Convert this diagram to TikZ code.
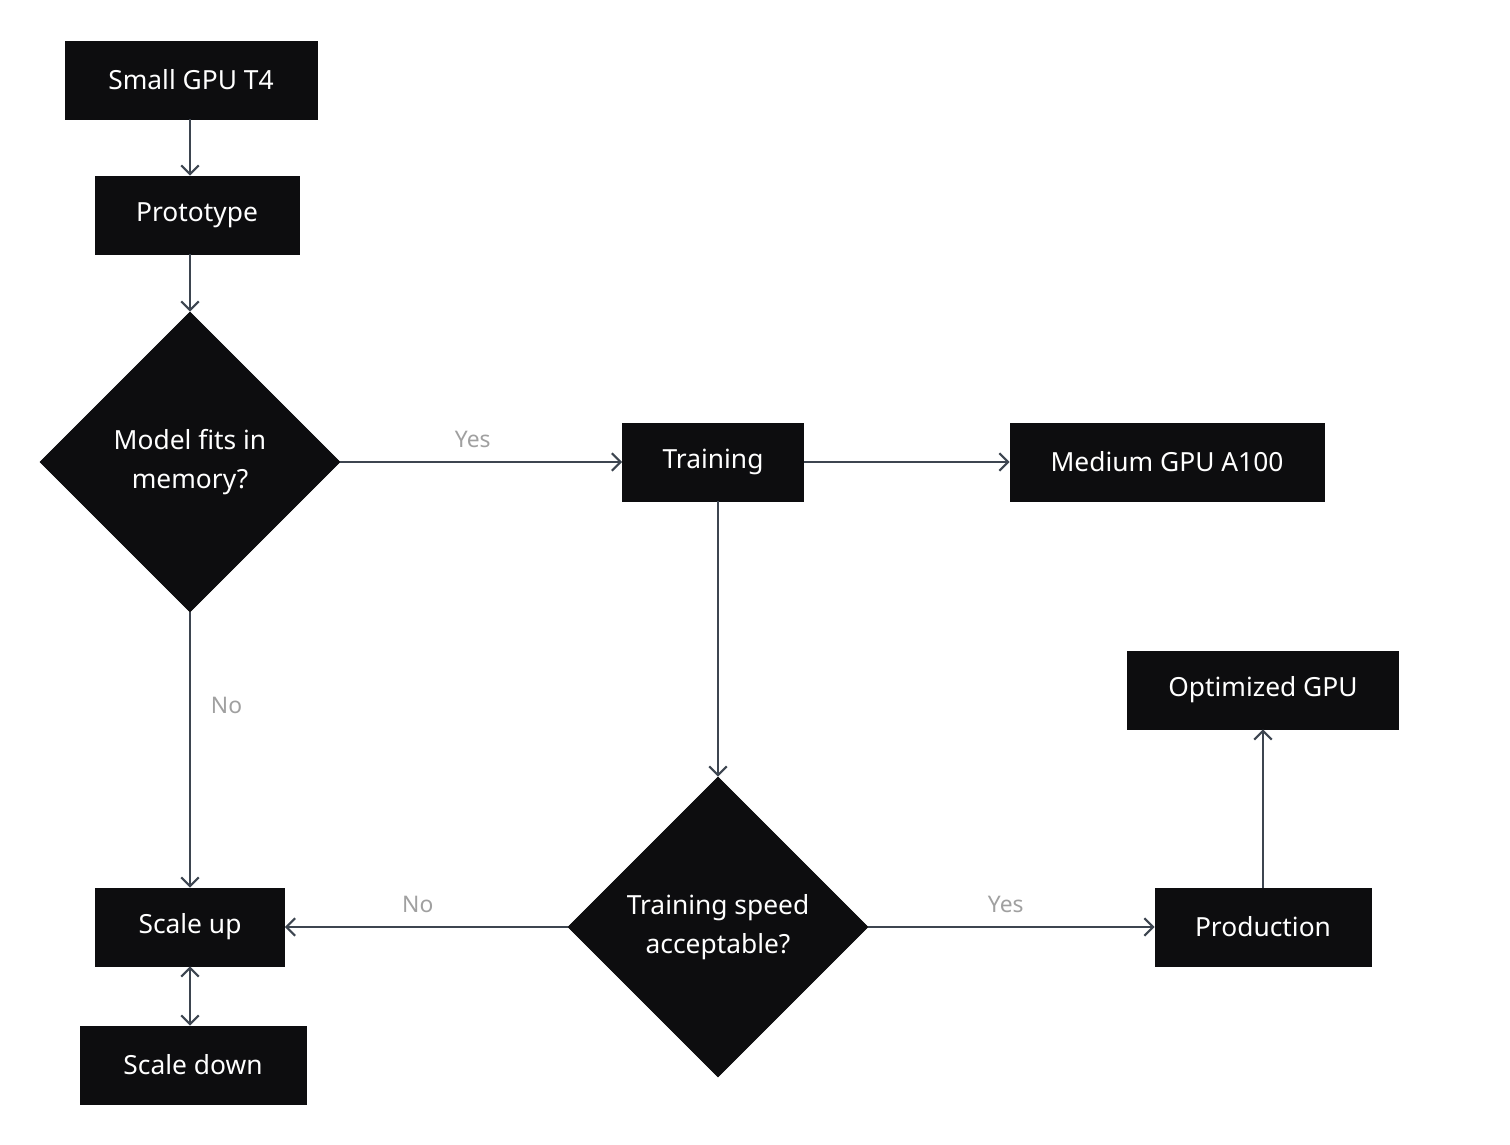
\documentclass[tikz,border=0pt]{standalone}
\usepackage{fontspec}
\setmainfont{Noto Sans}
\usetikzlibrary{shapes.geometric,arrows.meta}
\definecolor{boxc}{HTML}{0D0D0F}
\definecolor{linec}{HTML}{3D4550}
\definecolor{labc}{HTML}{A0A0A0}
\begin{document}
\begin{tikzpicture}[x=0.02cm,y=-0.02cm,
 box/.style={draw=boxc,fill=boxc,text=white,font=\fontsize{15}{18}\selectfont,minimum height=1.56cm,inner sep=0pt},
 dia/.style={diamond,draw=boxc,fill=boxc,text=white,font=\fontsize{15}{22}\selectfont,minimum size=6cm,inner sep=0pt,align=center},
 arr/.style={draw=linec,line width=1.2pt,-{Straight Barb[length=5pt,width=10pt]}},
 lab/.style={text=labc,font=\fontsize{13}{15}\selectfont}]
\useasboundingbox (0,0) rectangle (1510,1145);
\node[box,minimum width=5.04cm] (t4) at (191,80) {Small GPU T4};
\node[box,minimum width=4.08cm] (proto) at (197,215) {Prototype};
\node[dia] (d1) at (190,462) {Model fits in\\memory?};
\node[box,minimum width=3.62cm] (train) at (713,462) {Training};
\node[box,minimum width=6.28cm] (med) at (1167,462) {Medium GPU A100};
\node[box,minimum width=5.42cm] (opt) at (1263,690) {Optimized GPU};
\node[box,minimum width=3.78cm] (up) at (190,927) {Scale up};
\node[box,minimum width=4.52cm] (down) at (193,1065) {Scale down};
\node[dia] (d2) at (718,927) {Training speed\\acceptable?};
\node[box,minimum width=4.32cm] (prod) at (1263,927) {Production};
\coordinate (a) at (190,119);
\draw[arr] (a) -- (a|-proto.north);
\coordinate (b) at (190,254);
\draw[arr] (b) -- (d1.north);
\draw[arr] (d1.east) -- node[lab,above=4pt,pos=0.47]{Yes} (train.west);
\draw[arr] (d1.south) -- node[lab,pos=0.34,right=8pt]{No} (up.north);
\draw[arr] (train.east) -- (med.west);
\draw[arr] (train.south-|d2.north) -- (d2.north);
\draw[arr] (d2.west) -- node[lab,above=4pt,pos=0.53]{No} (up.east);
\draw[arr] (d2.east) -- node[lab,above=4pt,pos=0.48]{Yes} (prod.west);
\draw[arr] (prod.north) -- (opt.south-|prod.north);
\draw[draw=linec,line width=1.2pt,{Straight Barb[length=5pt,width=10pt]}-{Straight Barb[length=5pt,width=10pt]}] (up.south) -- (up.south|-down.north);
\end{tikzpicture}
\end{document}
